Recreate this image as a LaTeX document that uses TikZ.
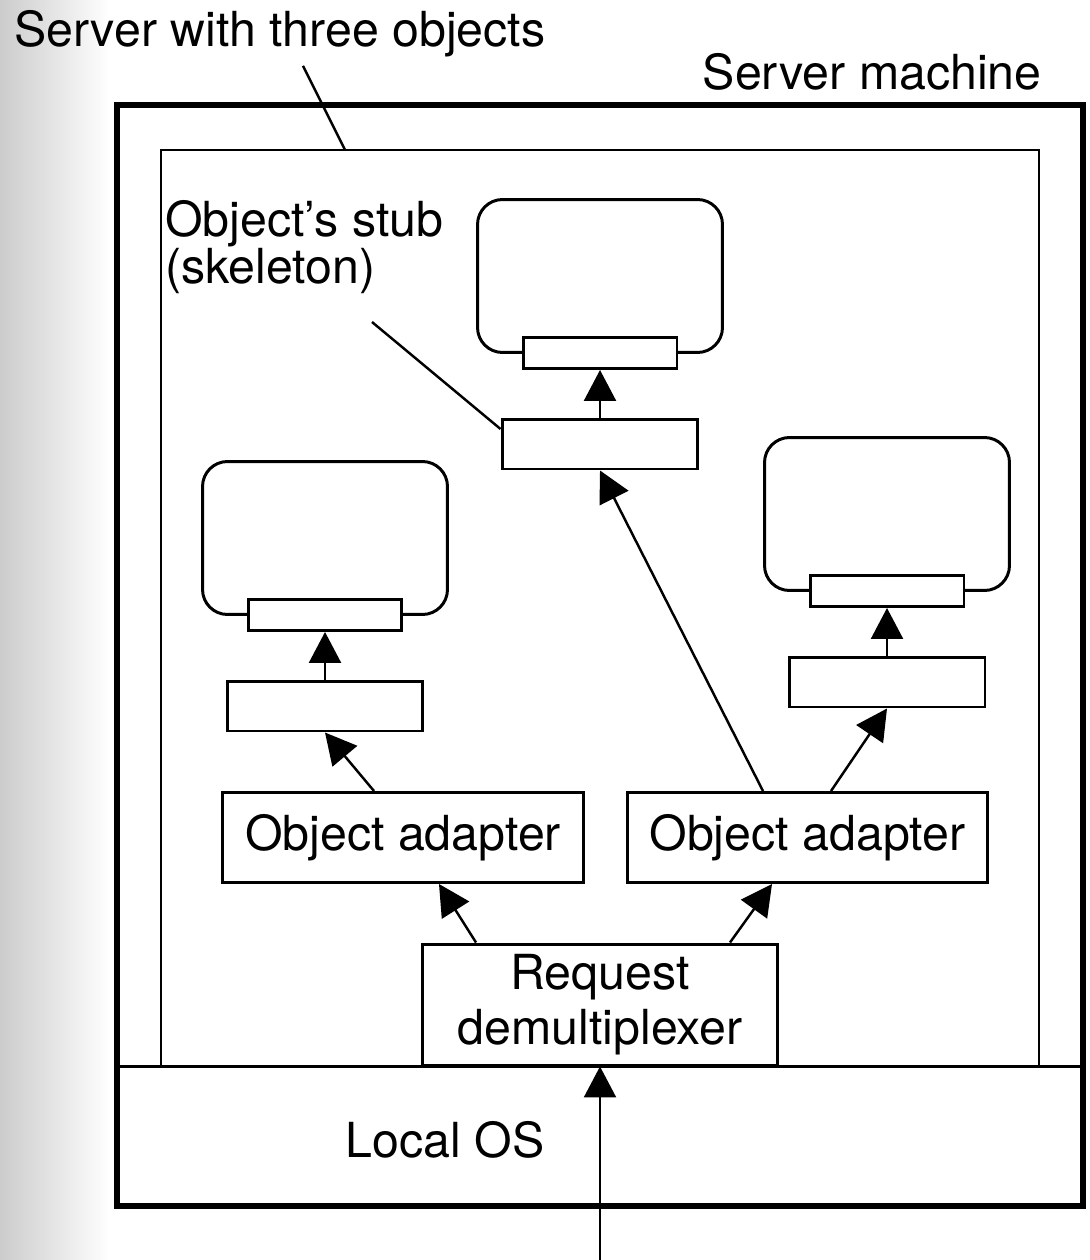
\documentclass[tikz,border=0pt]{standalone}
\usepackage{fontspec}
\setmainfont{TeX Gyre Heros}
\usetikzlibrary{arrows.meta}

\begin{document}
\begin{tikzpicture}
[%%%%%%%%%%%%%%%%%%%%%%%%%%%%%%
x=0.02cm, y=-0.02cm,
every node/.style={font=\fontsize{27.5}{26}\selectfont, inner sep=0pt},
box/.style={rectangle, draw=black, line width=1.7pt, fill=white},
objbox/.style={box, rounded corners=0.5cm, minimum width=4.9cm, minimum height=3.06cm},
skelbox/.style={box, minimum width=3.08cm, minimum height=0.62cm},
stubbox/.style={box, minimum width=3.92cm, minimum height=1cm},
adbox/.style={box, minimum width=7.22cm, minimum height=1.8cm},
arr/.style={-{Triangle[length=0.62cm,width=0.64cm]}, line width=1.4pt},
leader/.style={line width=1.4pt},
]%%%%%%%%%%%%%%%%%%%%%%%%%%%%%%

\useasboundingbox (0,0) rectangle (1089,1260);
\shade[left color=black!20, right color=white] (0,0) rectangle (110,1260);

% machine, process and OS
\draw[line width=3.6pt] (117,105) rectangle (1083,1206);
\draw[line width=1.4pt] (161,150) rectangle (1039,1066);
\draw[line width=1.7pt] (117,1066) -- (1083,1066);
\coordinate (innertop) at (345,150);

% the three objects
\foreach \n/\x/\y in {L/325/538,T/600/276,R/887/514}{
\node[objbox] (obj\n) at (\x,\y) {};
\node[skelbox] (skel\n) at (\x,\y+77) {};
\node[stubbox] (stub\n) at (\x,\y+168) {};
\draw[arr] (stub\n) -- (skel\n);
}

\node[adbox] (adL) at (403,837.5) {Object adapter};
\node[adbox] (adR) at (807.5,837.5) {Object adapter};
\node[box, minimum width=7.12cm, minimum height=2.42cm, align=center,
  font=\fontsize{27.5}{31}\selectfont] (demux) at (600,1004.5) {Request\\demultiplexer};
\node (os) at (445,1140) {Local OS};

\draw[arr] ([xshift=-0.58cm]adL.north) -- (stubL.south);
\draw[arr] ([xshift=-0.89cm]adR.north) -- (stubT.south);
\draw[arr] ([xshift=0.47cm]adR.north) -- (stubR.south);
\draw[arr] ([xshift=-2.48cm]demux.north) -- ([xshift=0.72cm]adL.south);
\draw[arr] ([xshift=2.6cm]demux.north) -- ([xshift=-0.71cm]adR.south);
\coordinate (netin) at (600,1260);
\draw[arr] (netin) -- (demux.south);

% labels
\node[anchor=base west] (srvlbl) at (14,47) {Server with three objects};
\node[anchor=base east] (machlbl) at (1042,90) {Server machine};
\node[anchor=north west, align=left] (stublbl) at (165,200) {Object's stub\\(skeleton)};
\coordinate (stubfoot) at (372,322);

\draw[leader] ([xshift=0.46cm,yshift=-0.16cm]srvlbl.south) -- (innertop);
\draw[leader] (stubfoot) -- ([yshift=0.3cm]stubT.west);
\end{tikzpicture}
\end{document}
